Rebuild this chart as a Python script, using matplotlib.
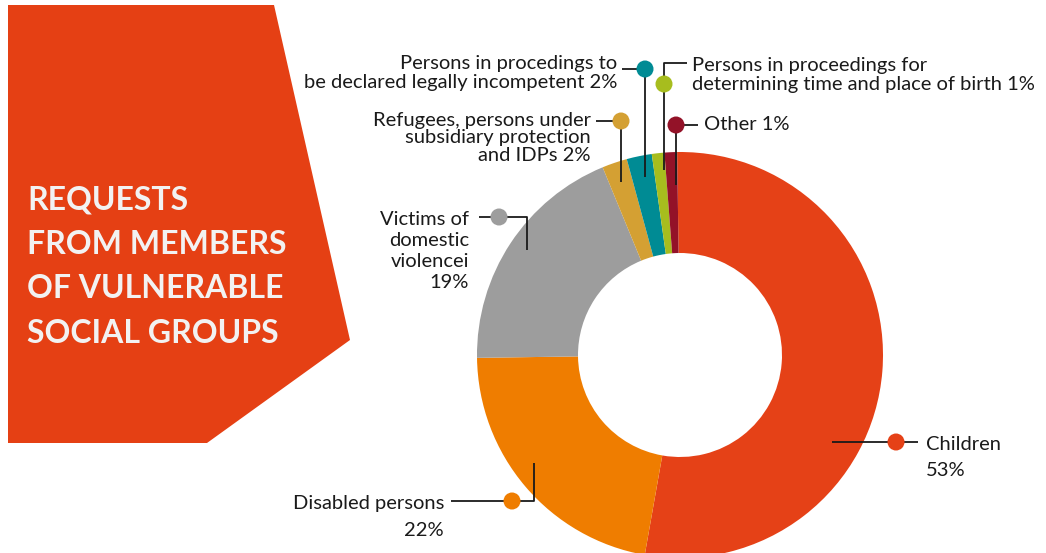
import matplotlib
matplotlib.use("Agg")
import matplotlib.pyplot as plt
from matplotlib.patches import Polygon, Circle

# dữ liệu
categories = ["Children", "Disabled persons", "Victims of domestic violencei",
              "Refugees, persons under subsidiary protection and IDPs",
              "Persons in procedings to be declared legally incompetent",
              "Persons in proceedings for determining time and place of birth",
              "Other"]
shares = [53, 22, 19, 2, 2, 1, 1]
colors = ["#E54117", "#EF7D00", "#9D9D9D", "#D4A033", "#008B94", "#A7BD1E", "#931228"]
title_lines = ["REQUESTS", "FROM MEMBERS", "OF VULNERABLE", "SOCIAL GROUPS"]

W, H = 1046, 553
fig = plt.figure(figsize=(W / 100, H / 100), dpi=100)
ax = fig.add_axes([0, 0, 1, 1])
plt.rcParams['font.family'] = ['Lato', 'DejaVu Sans']

# khối tiêu đề bên trái
ax.add_patch(Polygon([(8, 5), (274, 5), (350, 340), (207, 443), (8, 443)],
                     closed=True, color="#E54014", lw=0))
for i, t in enumerate(title_lines):
    ax.text(27, 200 + i * 44.5, t, color="#F2F2F2", fontsize=23, fontweight="bold",
            ha="left", va="center")

# donut: trục y đảo ngược nên counterclock=True và startangle âm
ax.pie(shares, colors=colors, center=(680, 355), radius=203, startangle=-90.8,
       counterclock=True, wedgeprops=dict(width=101, linewidth=0))

# đường dẫn + chấm tròn
lw = 1.3
def leader(pts, dot, col):
    xs, ys = zip(*pts)
    ax.plot(xs, ys, color="#1a1a1a", lw=lw, zorder=5, solid_capstyle="butt")
    ax.add_patch(Circle(dot, 8.5, color=col, zorder=6, lw=0))

# Children
leader([(832, 442), (918, 442)], (896, 442), colors[0])
# Disabled
leader([(451, 501), (534, 501), (534, 463)], (512, 501), colors[1])
# Victims
leader([(479, 217), (527, 217), (527, 250)], (499, 217), colors[2])
# Refugees
leader([(596, 121), (621, 121), (621, 182)], (621, 121), colors[3])
# legally incompetent
leader([(622, 69), (645, 69), (645, 177)], (645, 69), colors[4])
# birth
leader([(687, 63), (664, 63), (664, 170)], (664, 84), colors[5])
# Other
leader([(676, 185), (676, 125), (698, 125)], (676, 125), colors[6])

fs = 14.5
tc = "#1a1a1a"
ax.text(926, 444, "Children", fontsize=fs, color=tc, ha="left", va="center")
ax.text(926, 470, f"{shares[0]}%", fontsize=fs, color=tc, ha="left", va="center")
ax.text(444, 503, "Disabled persons", fontsize=fs, color=tc, ha="right", va="center")
ax.text(444, 530, f"{shares[1]}%", fontsize=fs, color=tc, ha="right", va="center")
ax.text(469, 251, f"Victims of\ndomestic\nviolencei\n{shares[2]}%", fontsize=fs, color=tc,
        ha="right", va="center", multialignment="right", linespacing=1.29)
ax.text(591, 138, f"Refugees, persons under\nsubsidiary protection\nand IDPs {shares[3]}%",
        fontsize=fs, color=tc, ha="right", va="center", multialignment="right", linespacing=1.02)
ax.text(617, 73, f"Persons in procedings to\nbe declared legally incompetent {shares[4]}%",
        fontsize=fs, color=tc, ha="right", va="center", multialignment="right", linespacing=1.09)
ax.text(692, 75, f"Persons in proceedings for\ndetermining time and place of birth {shares[5]}%",
        fontsize=fs, color=tc, ha="left", va="center", multialignment="left", linespacing=1.09)
ax.text(704, 125, f"Other {shares[6]}%", fontsize=fs, color=tc, ha="left", va="center")

ax.set_xlim(0, W)
ax.set_ylim(H, 0)
ax.set_aspect("equal")
ax.axis("off")
fig.savefig("out.png", dpi=100, facecolor="white")
